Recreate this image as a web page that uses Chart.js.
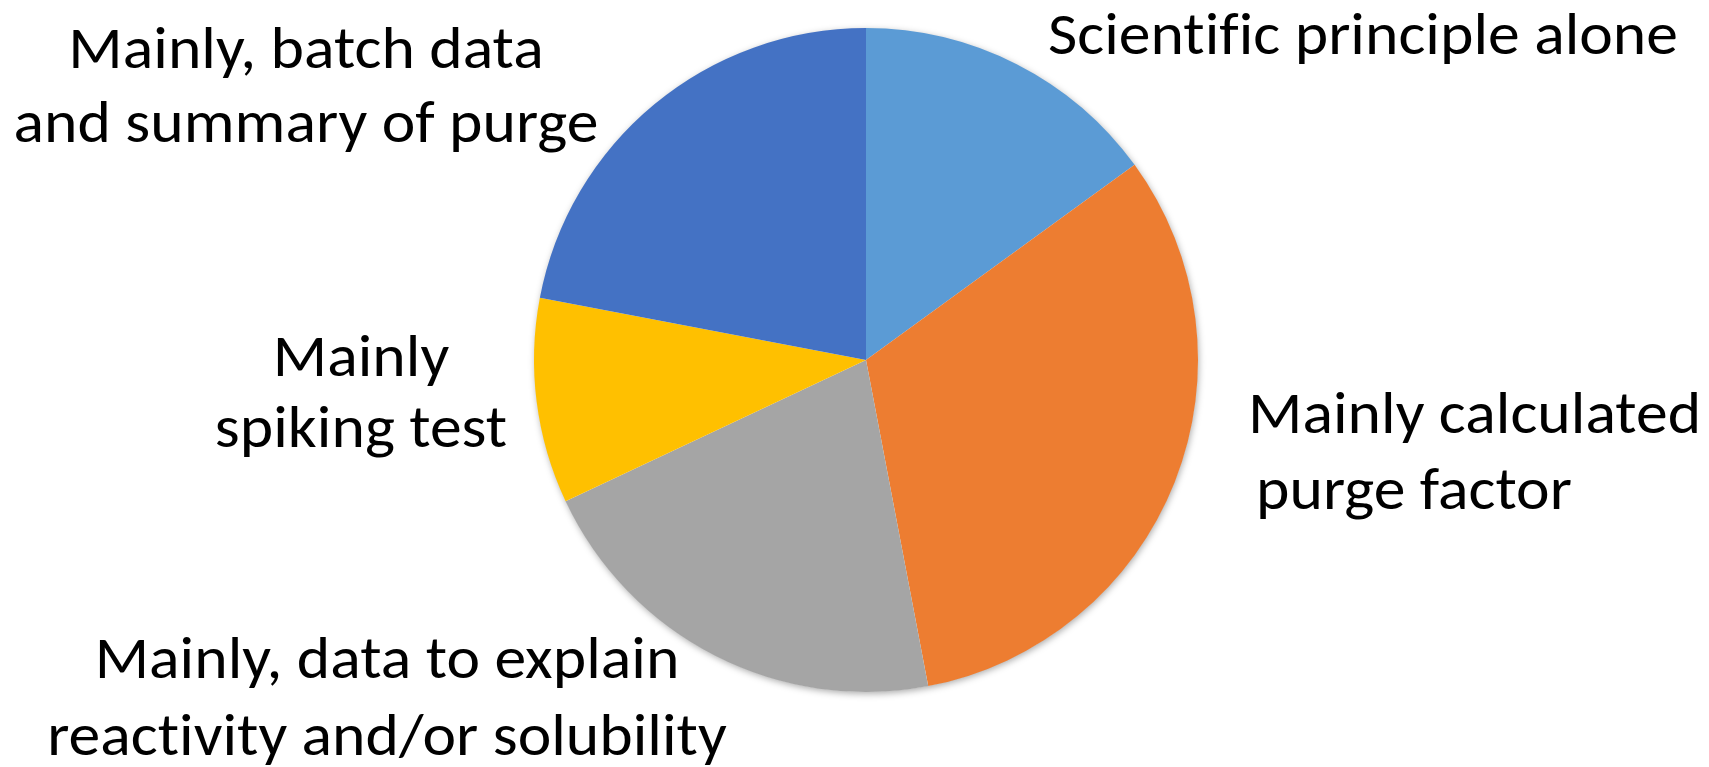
<!DOCTYPE html>
<html>
<head>
<meta charset="utf-8">
<script src="https://cdn.jsdelivr.net/npm/chart.js@4"></script>
<style>
  html, body { margin: 0; padding: 0; background: #ffffff; }
  #wrap { width: 1709px; height: 767px; }
</style>
</head>
<body>
<div id="wrap"><canvas id="pie" width="1709" height="767"></canvas></div>
<script>
// Share of responses per justification approach (percent)
const categories = [
  'Scientific principle alone',
  'Mainly calculated purge factor',
  'Mainly, data to explain reactivity and/or solubility',
  'Mainly spiking test',
  'Mainly, batch data and summary of purge'
];
const shares = [15, 32, 21, 10, 22];

// Label text broken into lines
const labelLines = [
  ['Scientific principle alone'],
  ['Mainly calculated', 'purge factor'],
  ['Mainly, data to explain', 'reactivity and/or solubility'],
  ['Mainly', 'spiking test'],
  ['Mainly, batch data', 'and summary of purge']
];

const sliceColors = ['#5B9BD5', '#ED7D31', '#A5A5A5', '#FFC000', '#4472C4'];

// Label placement relative to the pie centre, in units of a 332px radius
const labelLayout = [
  { align: 'center', x: 497,  y: [-306] },
  { align: 'left',   x: 382,  y: [73, 149], indent: [0, 8] },
  { align: 'center', x: -479, y: [318, 395] },
  { align: 'center', x: -505, y: [16, 87] },
  { align: 'center', x: -560, y: [-292, -218] }
];

const LABEL_FONT = '60px Carlito, Lato, sans-serif';
const REF_RADIUS = 332;

// Soft drop shadow behind the whole pie
const pieShadow = {
  id: 'pieShadow',
  beforeDatasetsDraw(chart) {
    const arc = chart.getDatasetMeta(0).data[0];
    if (!arc) return;
    const ctx = chart.ctx;
    ctx.save();
    ctx.shadowColor = 'rgba(0,0,0,0.35)';
    ctx.shadowBlur = 7;
    ctx.shadowOffsetX = 1;
    ctx.shadowOffsetY = 2;
    ctx.fillStyle = '#ffffff';
    ctx.beginPath();
    ctx.arc(arc.x, arc.y, arc.outerRadius - 0.5, 0, Math.PI * 2);
    ctx.fill();
    ctx.restore();
  }
};

// Category labels drawn around the pie
const outsideLabels = {
  id: 'outsideLabels',
  afterDraw(chart) {
    const arc = chart.getDatasetMeta(0).data[0];
    if (!arc) return;
    const k = arc.outerRadius / REF_RADIUS;
    const ctx = chart.ctx;
    ctx.save();
    ctx.font = LABEL_FONT;
    if ('letterSpacing' in ctx) ctx.letterSpacing = '0.01px'; // keep f and i as separate glyphs
    ctx.fillStyle = '#000000';
    ctx.textBaseline = 'alphabetic';
    // narrow the face to the width of a Calibri-style label
    const sx = 630 / ctx.measureText('Scientific principle alone').width;
    labelLines.forEach((lines, i) => {
      const lay = labelLayout[i];
      const ax = arc.x + lay.x * k;
      lines.forEach((line, j) => {
        const ay = arc.y + lay.y[j] * k;
        const w = ctx.measureText(line).width * sx;
        let left = lay.align === 'center' ? ax - w / 2 : ax;
        if (lay.indent) left += lay.indent[j] * k;
        ctx.save();
        ctx.translate(left, ay);
        ctx.scale(sx, 1);
        ctx.textAlign = 'left';
        ctx.fillText(line, 0, 0);
        ctx.restore();
      });
    });
    ctx.restore();
  }
};

new Chart(document.getElementById('pie'), {
  type: 'pie',
  data: {
    labels: categories,
    datasets: [{
      data: shares,
      backgroundColor: sliceColors,
      borderWidth: 0,
      hoverOffset: 0
    }]
  },
  options: {
    responsive: false,
    animation: false,
    rotation: 0,
    layout: { padding: { left: 23, right: 0, top: 28, bottom: 75 } },
    plugins: {
      legend: { display: false },
      tooltip: { enabled: false }
    }
  },
  plugins: [pieShadow, outsideLabels]
});
</script>
</body>
</html>
